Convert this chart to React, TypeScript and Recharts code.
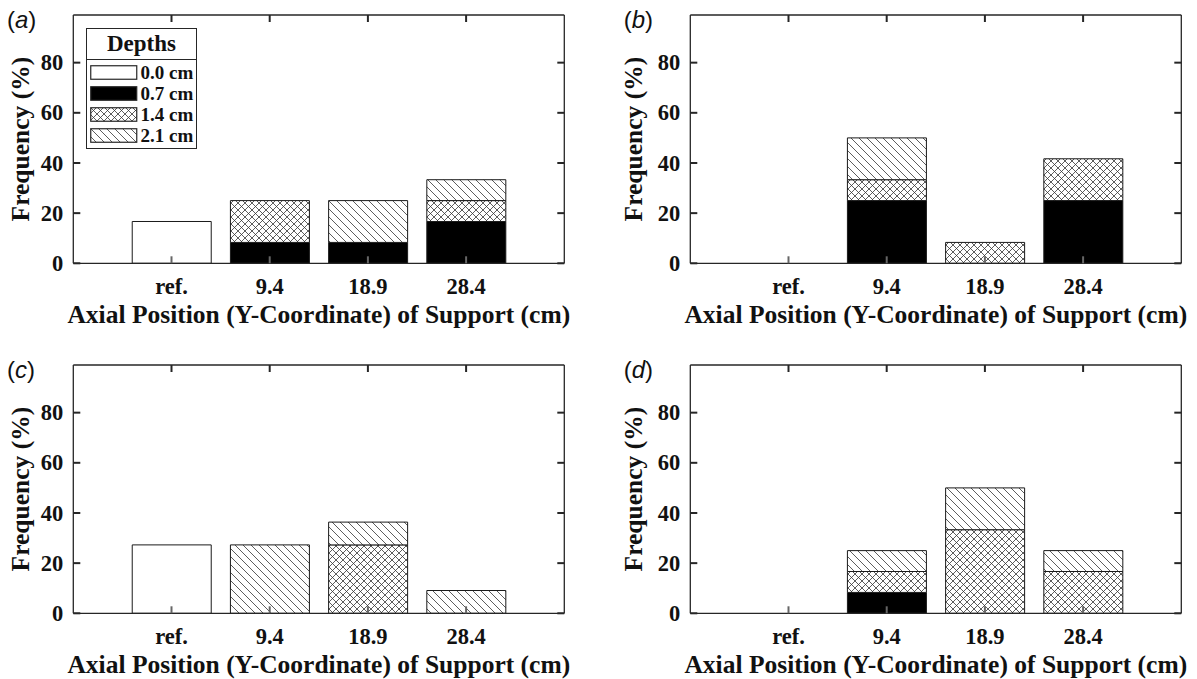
import React from 'react';
import { BarChart, Bar, XAxis, YAxis, Legend } from 'recharts';

// categories and tick labels
const positions = ['ref.', '9.4', '18.9', '28.4'];
const depthLabels = ['0.0 cm', '0.7 cm', '1.4 cm', '2.1 cm'];
const yTicks = [0, 20, 40, 60, 80];

// (a) frequencies (%) per depth
const a00 = [16.67, 0, 0, 0];
const a07 = [0, 8.33, 8.33, 16.67];
const a14 = [0, 16.67, 0, 8.33];
const a21 = [0, 0, 16.67, 8.33];

// (b)
const b00 = [0, 0, 0, 0];
const b07 = [0, 25, 0, 25];
const b14 = [0, 8.33, 8.33, 16.67];
const b21 = [0, 16.67, 0, 0];

// (c)
const c00 = [27.27, 0, 0, 0];
const c07 = [0, 0, 0, 0];
const c14 = [0, 0, 27.27, 0];
const c21 = [0, 27.27, 9.09, 9.09];

// (d)
const d00 = [0, 0, 0, 0];
const d07 = [0, 8.33, 0, 0];
const d14 = [0, 8.33, 33.33, 16.67];
const d21 = [0, 8.33, 16.67, 8.33];

const SERIF = "'Liberation Serif', 'Times New Roman', serif";
const SANS = "'Liberation Sans', Arial, sans-serif";
const AX = '#262626';
const TXT = '#111';
const TICK_LEN = 7;
const TICK_W = 2;
const X_GAP = 14; // axis -> top of x tick label
const Y_GAP = 10; // axis -> right edge of y tick label

const buildRows = (s0: number[], s1: number[], s2: number[], s3: number[]) =>
  positions.map((p, i) => ({ pos: p, d0: s0[i], d1: s1[i], d2: s2[i], d3: s3[i] }));

// hatch patterns like MATLAB's hatchfill
const Patterns = ({ id }: { id: string }) => (
  <defs>
    <pattern id={`${id}-hatch`} patternUnits="userSpaceOnUse" width={8} height={8}>
      <rect width={8} height={8} fill="#fff" />
      <path d="M0,0 L8,8 M-1,7 L1,9 M7,-1 L9,1" stroke="#333" strokeWidth={0.8} />
    </pattern>
    <pattern id={`${id}-cross`} patternUnits="userSpaceOnUse" width={7} height={7}>
      <rect width={7} height={7} fill="#fff" />
      <path
        d="M0,0 L7,7 M-1,6 L1,8 M6,-1 L8,1 M0,7 L7,0 M-1,1 L1,-1 M6,8 L8,6"
        stroke="#333"
        strokeWidth={0.8}
      />
    </pattern>
  </defs>
);

const fillsFor = (id: string) => ['#fff', '#000', `url(#${id}-cross)`, `url(#${id}-hatch)`];

// MATLAB style: tick marks point into the box
const BottomTick = (p: any) => (
  <g>
    <path d={`M${p.x},${p.y - X_GAP}L${p.x},${p.y - X_GAP - TICK_LEN}`} stroke="#666" strokeWidth={TICK_W} />
    <text
      x={p.x}
      y={p.y}
      dy="0.74em"
      textAnchor="middle"
      fontFamily={SERIF}
      fontSize={22.5}
      fontWeight="bold"
      fill={TXT}
    >
      {p.payload.value}
    </text>
  </g>
);

const LeftTick = (p: any) => (
  <g>
    <path d={`M${p.x + Y_GAP},${p.y}L${p.x + Y_GAP + TICK_LEN},${p.y}`} stroke={AX} strokeWidth={TICK_W} />
    <text
      x={p.x}
      y={p.y}
      dy="0.34em"
      textAnchor="end"
      fontFamily={SERIF}
      fontSize={22.5}
      fontWeight="bold"
      fill={TXT}
    >
      {p.payload.value}
    </text>
  </g>
);

const TopTick = (p: any) => (
  <path d={`M${p.x},${p.y}L${p.x},${p.y + TICK_LEN}`} stroke={AX} strokeWidth={TICK_W} />
);

const RightTick = (p: any) => (
  <path d={`M${p.x},${p.y}L${p.x - TICK_LEN},${p.y}`} stroke={AX} strokeWidth={TICK_W} />
);

const DepthLegend = () => {
  const fills = fillsFor('pa');
  return (
    <div
      style={{
        width: 111,
        boxSizing: 'border-box',
        border: `1.5px solid ${AX}`,
        background: '#fff',
        fontFamily: SERIF,
        fontWeight: 'bold',
        color: TXT,
      }}
    >
      <div
        style={{
          height: 30,
          lineHeight: '30px',
          fontSize: 23,
          textAlign: 'center',
          borderBottom: `1.5px solid ${AX}`,
        }}
      >
        Depths
      </div>
      <div style={{ padding: '2px 2px 2px 2.5px' }}>
        {depthLabels.map((d, i) => (
          <div key={d} style={{ display: 'flex', alignItems: 'center', height: 21 }}>
            <svg width={48} height={15} style={{ display: 'block' }}>
              <rect x={0.75} y={0.75} width={46} height={13.5} fill={fills[i]} stroke={AX} strokeWidth={1.2} />
            </svg>
            <span style={{ marginLeft: 3, fontSize: 19, lineHeight: '21px' }}>{d}</span>
          </div>
        ))}
      </div>
    </div>
  );
};

type PanelProps = {
  id: string;
  letter: string;
  left: number;
  top: number;
  rows: ReturnType<typeof buildRows>;
  labelX: number;
  legend?: boolean;
};

const W = 600;
const H = 340;

function Panel({ id, letter, left, top, rows, labelX, legend }: PanelProps) {
  const fills = fillsFor(id);
  const keys = ['d0', 'd1', 'd2', 'd3'];
  return (
    <div style={{ position: 'absolute', left, top, width: W, height: H }}>
      <div
        style={{
          position: 'absolute',
          left: 7,
          top: 8,
          fontFamily: SANS,
          fontSize: 24,
          lineHeight: '24px',
          color: TXT,
          zIndex: 2,
        }}
      >
        (<i>{letter}</i>)
      </div>
      <BarChart
        width={W}
        height={H}
        data={rows}
        margin={{ top: 14, right: 34.7, bottom: 16.7, left: 13.3 }}
        barCategoryGap="10%"
      >
        <Patterns id={id} />
        {keys.map((k, i) => (
          <Bar
            key={k}
            dataKey={k}
            name={depthLabels[i]}
            stackId="s"
            fill={fills[i]}
            stroke="#1a1a1a"
            strokeWidth={1}
            isAnimationActive={false}
          />
        ))}
        <XAxis
          dataKey="pos"
          interval={0}
          padding={{ left: 49.1, right: 49.1 }}
          height={60}
          axisLine={{ stroke: AX, strokeWidth: 1.3 }}
          tickLine={false}
          tickSize={0}
          tickMargin={X_GAP}
          tick={BottomTick}
          label={(p: any) => {
            const vb = p.viewBox;
            return (
              <text
                x={vb.x + vb.width / 2}
                y={vb.y + 59.5}
                textAnchor="middle"
                fontFamily={SERIF}
                fontSize={25.5}
                fontWeight="bold"
                fill={TXT}
              >
                Axial Position (Y-Coordinate) of Support (cm)
              </text>
            );
          }}
        />
        <XAxis
          xAxisId="top"
          orientation="top"
          dataKey="pos"
          interval={0}
          padding={{ left: 49.1, right: 49.1 }}
          height={1}
          axisLine={{ stroke: AX, strokeWidth: 1.3 }}
          tickLine={false}
          tickSize={0}
          tickMargin={0}
          tick={TopTick}
        />
        <YAxis
          domain={[0, 99]}
          ticks={yTicks}
          width={60}
          allowDataOverflow
          axisLine={{ stroke: AX, strokeWidth: 1.3 }}
          tickLine={false}
          tickSize={0}
          tickMargin={Y_GAP}
          tick={LeftTick}
          label={(p: any) => {
            const vb = p.viewBox;
            const cy = vb.y + vb.height / 2;
            return (
              <text
                x={labelX}
                y={cy}
                transform={`rotate(-90, ${labelX}, ${cy})`}
                textAnchor="middle"
                fontFamily={SERIF}
                fontSize={25.5}
                fontWeight="bold"
                fill={TXT}
              >
                Frequency (%)
              </text>
            );
          }}
        />
        <YAxis
          yAxisId="right"
          orientation="right"
          domain={[0, 99]}
          ticks={yTicks}
          width={1}
          allowDataOverflow
          axisLine={{ stroke: AX, strokeWidth: 1.3 }}
          tickLine={false}
          tickSize={0}
          tickMargin={0}
          tick={RightTick}
        />
        {legend && (
          <Legend
            layout="horizontal"
            verticalAlign="middle"
            align="center"
            content={() => <DepthLegend />}
            wrapperStyle={{ left: 86, top: 28, width: 111 }}
          />
        )}
      </BarChart>
    </div>
  );
}

export default function App() {
  return (
    <div
      style={{
        position: 'absolute',
        left: 0,
        top: 0,
        width: 1197,
        height: 679,
        overflow: 'hidden',
        background: '#fff',
      }}
    >
      <Panel id="pa" letter="a" left={0} top={0} rows={buildRows(a00, a07, a14, a21)} labelX={29.5} legend />
      <Panel id="pb" letter="b" left={616.7} top={0} rows={buildRows(b00, b07, b14, b21)} labelX={25} />
      <Panel id="pc" letter="c" left={0} top={350} rows={buildRows(c00, c07, c14, c21)} labelX={29.5} />
      <Panel id="pd" letter="d" left={616.7} top={350} rows={buildRows(d00, d07, d14, d21)} labelX={25} />
    </div>
  );
}
